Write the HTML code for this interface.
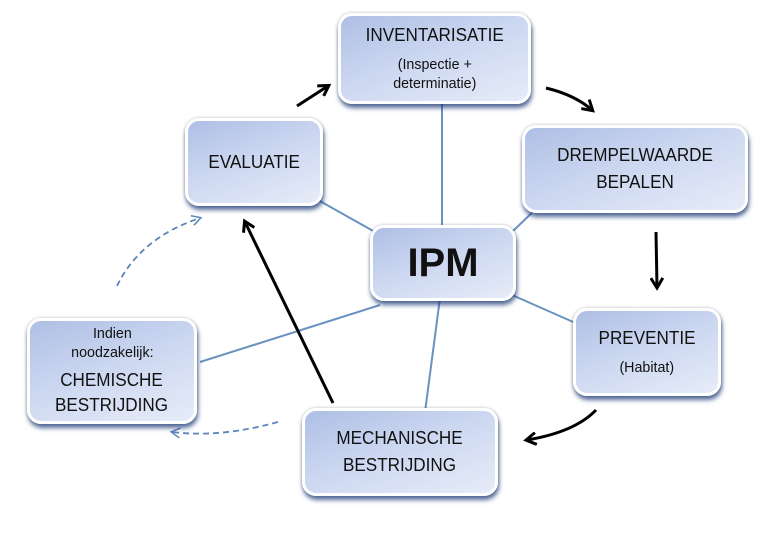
<!DOCTYPE html>
<html><head><meta charset="utf-8"><style>
html,body{margin:0;padding:0;background:#fff;width:780px;height:533px;overflow:hidden}
.b{position:absolute;box-sizing:border-box;border:3px solid #fff;border-radius:14px;
background:linear-gradient(160deg,#aebfe5 0%,#cbd6f0 45%,#e6ecf8 100%);
box-shadow:1px 4px 5px rgba(30,60,120,.75),0 0 3px rgba(0,0,0,.25);
font-family:"Liberation Sans",sans-serif;color:#111;text-align:center;display:flex;flex-direction:column;justify-content:center;align-items:center}
.t{font-size:18px;line-height:23px;transform:scaleX(.95)}
.s{font-size:15px;line-height:19px;transform:scaleX(.95)}
</style></head><body>
<svg width="780" height="533" style="position:absolute;left:0;top:0">
<defs>
<marker id="a" markerWidth="14" markerHeight="14" refX="10" refY="7" orient="auto" markerUnits="userSpaceOnUse"><path d="M1,1 L11,7 L1,13" fill="none" stroke="#000" stroke-width="3"/></marker>
<marker id="d" markerWidth="12" markerHeight="12" refX="9" refY="6" orient="auto" markerUnits="userSpaceOnUse"><path d="M1,1 L10,6 L1,11" fill="none" stroke="#5b85b8" stroke-width="1.5"/></marker>
</defs>
<g stroke="#6a92bf" stroke-width="2" fill="none">
<line x1="442" y1="100" x2="442" y2="228"/>
<line x1="318" y1="200" x2="375" y2="232"/>
<line x1="540" y1="205" x2="512" y2="232"/>
<line x1="512" y1="295" x2="580" y2="325"/>
<line x1="440" y1="298" x2="425" y2="412"/>
<line x1="200" y1="362" x2="380" y2="305"/>
</g>
<g stroke="#000" stroke-width="3" fill="none">
<line x1="297" y1="106" x2="328" y2="86" marker-end="url(#a)"/>
<path d="M546 88 Q575 95 592 110" marker-end="url(#a)"/>
<line x1="656" y1="232" x2="657" y2="287" marker-end="url(#a)"/>
<path d="M596 410 Q575 432 527 440" marker-end="url(#a)"/>
<line x1="333" y1="403" x2="245" y2="222" marker-end="url(#a)"/>
</g>
<g stroke="#5b85b8" stroke-width="1.8" fill="none" stroke-dasharray="6,4">
<path d="M117 286 Q140 238 200 218" marker-end="url(#d)"/>
<path d="M278 422 Q220 438 172 432" marker-end="url(#d)"/>
</g>
</svg>
<div class="b" style="left:338px;top:13px;width:193px;height:91px"><div class="t" style="margin-bottom:8px">INVENTARISATIE</div><div class="s">(Inspectie +<br>determinatie)</div></div>
<div class="b" style="left:185px;top:118px;width:138px;height:88px"><div class="t">EVALUATIE</div></div>
<div class="b" style="left:522px;top:125px;width:226px;height:88px"><div class="t" style="line-height:27px">DREMPELWAARDE<br>BEPALEN</div></div>
<div class="b" style="left:370px;top:225px;width:146px;height:76px"><div style="font-size:40px;font-weight:bold">IPM</div></div>
<div class="b" style="left:573px;top:308px;width:148px;height:88px"><div class="t" style="margin-bottom:8px">PREVENTIE</div><div class="s">(Habitat)</div></div>
<div class="b" style="left:302px;top:408px;width:196px;height:88px"><div class="t" style="line-height:27px">MECHANISCHE<br>BESTRIJDING</div></div>
<div class="b" style="left:27px;top:318px;width:170px;height:106px"><div class="s" style="margin-bottom:6px">Indien<br>noodzakelijk:</div><div class="t" style="line-height:25px">CHEMISCHE<br>BESTRIJDING</div></div>
</body></html>
